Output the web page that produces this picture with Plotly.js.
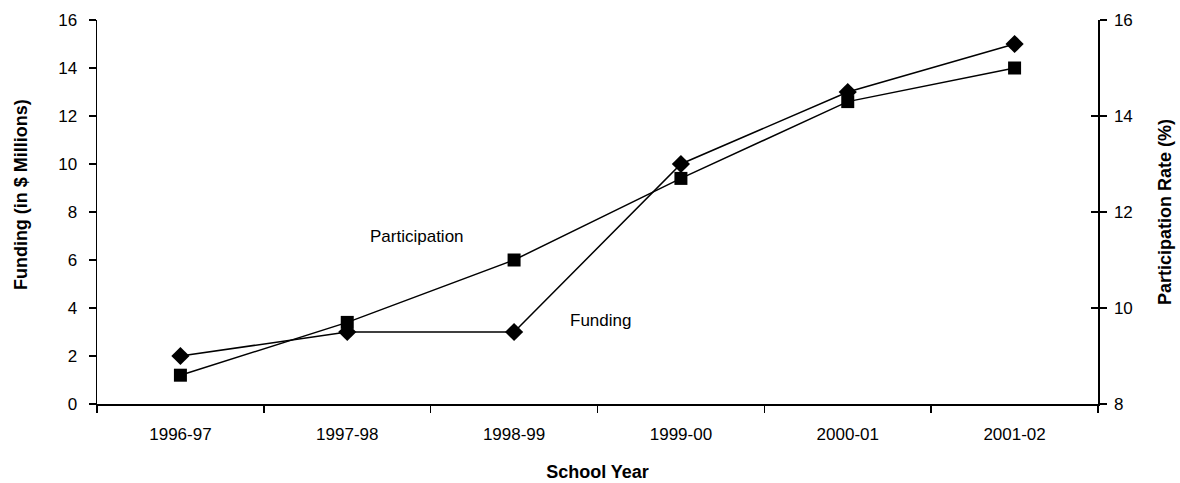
<!DOCTYPE html>
<html>
<head>
<meta charset="utf-8">
<script src="https://cdn.plot.ly/plotly-3.0.1.min.js"></script>
<style>html,body{margin:0;padding:0;background:#fff;}#chart{width:1180px;height:483px;}</style>
</head>
<body>
<div id="chart"></div>
<script>
const schoolYears = ["1996-97", "1997-98", "1998-99", "1999-00", "2000-01", "2001-02"];
const fundingMillions = [2, 3, 3, 10, 13, 15];
const participationRate = [8.6, 9.7, 11, 12.7, 14.3, 15];
const leftTicks = [0, 2, 4, 6, 8, 10, 12, 14, 16];
const rightTicks = [8, 10, 12, 14, 16];

const FONT = "Liberation Sans, Arial, sans-serif";
const TICKFONT = {family: FONT, size: 17, color: "#000"};
const TITLEFONT = {family: FONT, size: 18, color: "#000"};

const traces = [
  {
    x: schoolYears, y: fundingMillions, name: "Funding", type: "scatter", mode: "lines+markers",
    yaxis: "y", line: {color: "#000", width: 1.5},
    marker: {symbol: "diamond", size: 14, color: "#000"}
  },
  {
    x: schoolYears, y: participationRate, name: "Participation", type: "scatter", mode: "lines+markers",
    yaxis: "y2", line: {color: "#000", width: 1.5},
    marker: {symbol: "square", size: 13, color: "#000"}
  },
  {x: [schoolYears[0]], y: [null], yaxis: "y3", type: "scatter", mode: "markers", hoverinfo: "skip", showlegend: false}
];

const layout = {
  width: 1180, height: 483,
  margin: {l: 97, r: 82, t: 20, b: 79},
  paper_bgcolor: "#fff", plot_bgcolor: "#fff",
  showlegend: false,
  font: {family: FONT, size: 17, color: "#000"},
  xaxis: {
    type: "category", range: [-0.5, 5.5], tickson: "boundaries",
    ticks: "outside", ticklen: 7, tickwidth: 1.5, tickcolor: "#000",
    showline: true, linecolor: "#000", linewidth: 1.5, showgrid: false, zeroline: false,
    tickfont: TICKFONT, ticklabelstandoff: 14, automargin: false,
    title: {text: "<b>School Year</b>", font: TITLEFONT, standoff: 22}
  },
  yaxis: {
    range: [0, 16], tickvals: leftTicks, ticktext: leftTicks.map(String),
    ticks: "outside", ticklen: 7, tickwidth: 1.5, tickcolor: "#000",
    showline: true, linecolor: "#000", linewidth: 1.5, showgrid: false, zeroline: false,
    tickfont: TICKFONT, ticklabelstandoff: 8, automargin: false
  },
  yaxis2: {
    range: [8, 16], tickvals: rightTicks, ticktext: rightTicks.map(String),
    overlaying: "y", side: "right",
    ticks: "outside", ticklen: 7, tickwidth: 1.5, tickcolor: "#000",
    showline: true, linecolor: "#000", linewidth: 1.5, showgrid: false, zeroline: false,
    tickfont: TICKFONT, ticklabelstandoff: 4, automargin: false,
    title: {text: "<b>Participation Rate (%)</b>", font: TITLEFONT, standoff: 26}
  },
  yaxis3: {
    range: [8, 16], tickvals: rightTicks, overlaying: "y", side: "right",
    ticks: "inside", ticklen: 7, tickwidth: 1.5, tickcolor: "#000",
    showticklabels: false, showline: false, showgrid: false, zeroline: false
  },
  annotations: [
    {x: 0, y: 0.544, xref: "paper", yref: "paper", xshift: -88, textangle: -90,
     text: "<b>Funding (in $ Millions)</b>", showarrow: false, font: TITLEFONT},
    {x: 1.42, y: 7.0, xref: "x", yref: "y", text: "Participation", showarrow: false,
     font: TICKFONT},
    {x: 2.52, y: 3.5, xref: "x", yref: "y", text: "Funding", showarrow: false,
     font: TICKFONT}
  ]
};

Plotly.newPlot("chart", traces, layout, {displayModeBar: false, staticPlot: true});
</script>
</body>
</html>
